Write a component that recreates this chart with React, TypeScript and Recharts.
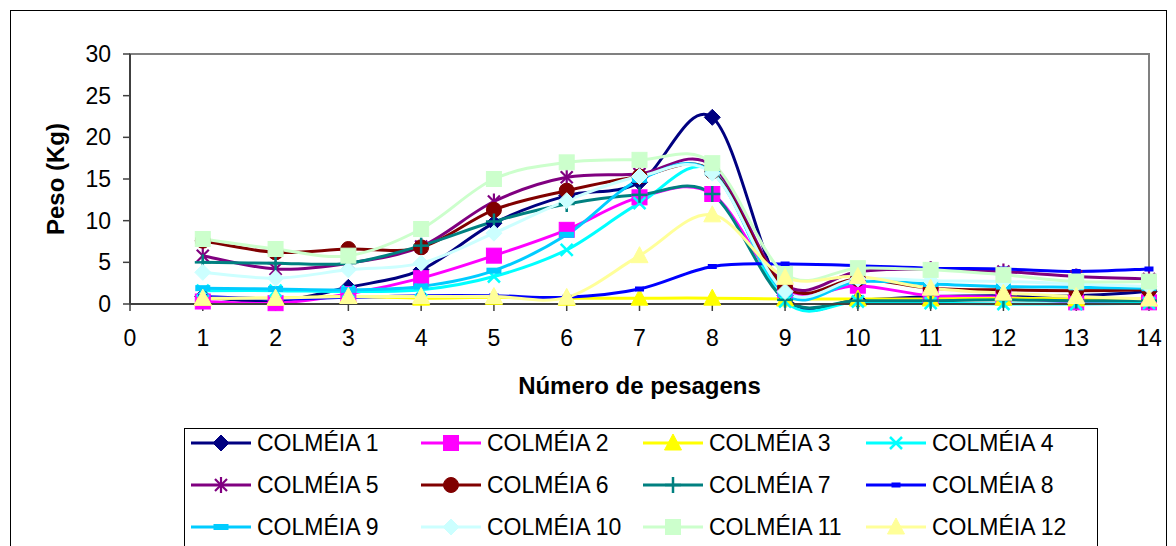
import React from "react";
import {
  LineChart,
  Line,
  XAxis,
  YAxis,
  ReferenceArea,
} from "recharts";

// pesagens 1..14
const pesagens = [1, 2, 3, 4, 5, 6, 7, 8, 9, 10, 11, 12, 13, 14];
const xTicks = [0, 1, 2, 3, 4, 5, 6, 7, 8, 9, 10, 11, 12, 13, 14];
const yTicks = [0, 5, 10, 15, 20, 25, 30];

const colmeia1 = [0.9, 0.3, 2.0, 4.1, 9.7, 13.0, 14.6, 22.4, 1.0, 0.5, 0.9, 1.0, 1.0, 1.5];
const colmeia2 = [0.3, 0.1, 1.2, 3.1, 5.8, 8.9, 12.8, 13.2, 1.7, 2.2, 1.0, 0.8, 0.2, 0.2];
const colmeia3 = [0.7, 0.7, 0.9, 0.7, 0.8, 0.7, 0.7, 0.7, 0.6, 0.6, 0.6, 0.7, 0.6, 0.6];
const colmeia4 = [1.6, 1.6, 1.5, 1.7, 3.3, 6.5, 12.1, 16.0, 0.3, 0.3, 0.1, 0.0, 0.0, 0.1];
const colmeia5 = [5.8, 4.2, 4.9, 6.9, 12.3, 15.2, 15.6, 16.6, 2.3, 3.9, 4.2, 3.9, 3.3, 3.0];
const colmeia6 = [7.6, 6.2, 6.6, 6.8, 11.3, 13.6, 15.3, 15.9, 2.0, 3.0, 1.9, 1.7, 1.6, 1.7];
const colmeia7 = [5.0, 4.9, 4.9, 7.0, 9.9, 12.0, 13.1, 13.2, 0.5, 0.4, 0.4, 0.5, 0.4, 0.4];
const colmeia8 = [0.9, 0.6, 0.8, 1.0, 1.0, 0.8, 1.8, 4.5, 4.8, 4.6, 4.3, 4.2, 3.9, 4.2];
const colmeia9 = [1.9, 1.8, 1.7, 2.1, 4.0, 8.3, 14.9, 15.8, 1.2, 2.7, 2.4, 2.1, 2.0, 1.9];
const colmeia10 = [3.8, 3.1, 4.1, 4.9, 8.5, 12.4, 15.3, 15.7, 1.5, 3.0, 2.8, 2.7, 2.4, 2.1];
const colmeia11 = [7.8, 6.6, 5.8, 9.0, 15.0, 17.0, 17.3, 16.9, 3.6, 4.3, 4.1, 3.5, 2.7, 2.7];
const colmeia12 = [0.7, 0.7, 0.9, 0.9, 0.9, 0.8, 5.8, 10.7, 3.2, 3.3, 1.9, 1.3, 0.9, 0.6];

const series = [
  { key: "c1", name: "COLMÉIA 1", color: "#000080", shape: "diamond", values: colmeia1 },
  { key: "c2", name: "COLMÉIA 2", color: "#FF00FF", shape: "square", values: colmeia2 },
  { key: "c3", name: "COLMÉIA 3", color: "#FFFF00", shape: "triangle", values: colmeia3 },
  { key: "c4", name: "COLMÉIA 4", color: "#00FFFF", shape: "x", values: colmeia4 },
  { key: "c5", name: "COLMÉIA 5", color: "#800080", shape: "star", values: colmeia5 },
  { key: "c6", name: "COLMÉIA 6", color: "#800000", shape: "circle", values: colmeia6 },
  { key: "c7", name: "COLMÉIA 7", color: "#008080", shape: "plus", values: colmeia7 },
  { key: "c8", name: "COLMÉIA 8", color: "#0000FF", shape: "dash", values: colmeia8 },
  { key: "c9", name: "COLMÉIA 9", color: "#00CCFF", shape: "bar", values: colmeia9 },
  { key: "c10", name: "COLMÉIA 10", color: "#CCFFFF", shape: "diamond", values: colmeia10 },
  { key: "c11", name: "COLMÉIA 11", color: "#CCFFCC", shape: "square", values: colmeia11 },
  { key: "c12", name: "COLMÉIA 12", color: "#FFFF99", shape: "triangle", values: colmeia12 },
];

const data = pesagens.map((p, i) => {
  const row: Record<string, number> = { pesagem: p };
  series.forEach((s) => {
    row[s.key] = s.values[i];
  });
  return row;
});

const FONT = "'Liberation Sans', Arial, sans-serif";

// smoothed line like the spreadsheet "smoothed line" option (Catmull-Rom bezier)
function smoothCurve(context: any) {
  let pts: number[][] = [];
  return {
    areaStart() {},
    areaEnd() {},
    lineStart() {
      pts = [];
    },
    point(x: number, y: number) {
      pts.push([+x, +y]);
    },
    lineEnd() {
      const n = pts.length;
      if (!n) return;
      context.moveTo(pts[0][0], pts[0][1]);
      for (let i = 0; i < n - 1; i++) {
        const p0 = pts[Math.max(i - 1, 0)];
        const p1 = pts[i];
        const p2 = pts[i + 1];
        const p3 = pts[Math.min(i + 2, n - 1)];
        context.bezierCurveTo(
          p1[0] + (p2[0] - p0[0]) / 6,
          p1[1] + (p2[1] - p0[1]) / 6,
          p2[0] - (p3[0] - p1[0]) / 6,
          p2[1] - (p3[1] - p1[1]) / 6,
          p2[0],
          p2[1]
        );
      }
    },
  };
}

function Marker({ shape, color, cx, cy }: { shape: string; color: string; cx: number; cy: number }) {
  switch (shape) {
    case "diamond":
      return (
        <polygon
          points={`${cx},${cy - 8} ${cx + 8},${cy} ${cx},${cy + 8} ${cx - 8},${cy}`}
          fill={color}
          stroke={color}
        />
      );
    case "square":
      return <rect x={cx - 7.5} y={cy - 7.5} width={15} height={15} fill={color} stroke={color} />;
    case "triangle":
      return (
        <polygon
          points={`${cx},${cy - 9} ${cx + 8.5},${cy + 7} ${cx - 8.5},${cy + 7}`}
          fill={color}
          stroke={color}
        />
      );
    case "x":
      return (
        <g stroke={color} strokeWidth={2.5}>
          <line x1={cx - 6} y1={cy - 6} x2={cx + 6} y2={cy + 6} />
          <line x1={cx - 6} y1={cy + 6} x2={cx + 6} y2={cy - 6} />
        </g>
      );
    case "star":
      return (
        <g stroke={color} strokeWidth={2.2}>
          <line x1={cx - 6} y1={cy - 6} x2={cx + 6} y2={cy + 6} />
          <line x1={cx - 6} y1={cy + 6} x2={cx + 6} y2={cy - 6} />
          <line x1={cx} y1={cy - 8} x2={cx} y2={cy + 8} />
        </g>
      );
    case "circle":
      return <circle cx={cx} cy={cy} r={7.5} fill={color} stroke={color} />;
    case "plus":
      return (
        <g stroke={color} strokeWidth={2.5}>
          <line x1={cx - 8} y1={cy} x2={cx + 8} y2={cy} />
          <line x1={cx} y1={cy - 8} x2={cx} y2={cy + 8} />
        </g>
      );
    case "dash":
      return <rect x={cx - 4.5} y={cy - 2.5} width={9} height={5} fill={color} />;
    case "bar":
      return <rect x={cx - 7.5} y={cy - 3} width={15} height={6} fill={color} />;
    default:
      return null;
  }
}

function LegendBox() {
  const colWidths = [230, 222, 223, 223];
  return (
    <div
      style={{
        position: "absolute",
        left: 173,
        top: 417,
        width: 912,
        height: 140,
        border: "1px solid #000",
        fontFamily: FONT,
        fontSize: 23,
        color: "#000",
      }}
    >
      {series.map((s, i) => {
        const col = i % 4;
        const row = Math.floor(i / 4);
        const left = 5 + colWidths.slice(0, col).reduce((a, b) => a + b, 0);
        return (
          <div
            key={s.key}
            style={{
              position: "absolute",
              left,
              top: 14 + row * 42 - 13,
              height: 26,
              display: "flex",
              alignItems: "center",
              whiteSpace: "nowrap",
            }}
          >
            <svg width={62} height={24} style={{ display: "block" }}>
              <line x1={1} y1={12} x2={61} y2={12} stroke={s.color} strokeWidth={3} />
              <Marker shape={s.shape} color={s.color} cx={31} cy={12} />
            </svg>
            <span style={{ marginLeft: 5 }}>{s.name}</span>
          </div>
        );
      })}
    </div>
  );
}

export default function App() {
  return (
    <div
      style={{
        position: "relative",
        width: 1157,
        height: 560,
        marginLeft: 2,
        marginTop: 2,
        border: "1px solid #000",
        boxSizing: "border-box",
        background: "#fff",
        fontFamily: FONT,
      }}
    >
      <LineChart
        width={1155}
        height={540}
        data={data}
        margin={{ top: 43, right: 17, left: 0, bottom: 207 }}
      >
        <ReferenceArea
          x1={0}
          x2={14}
          y1={0}
          y2={30}
          fill="none"
          stroke="#808080"
          strokeWidth={2}
          ifOverflow="visible"
        />
        <XAxis
          dataKey="pesagem"
          type="number"
          domain={[0, 14]}
          ticks={xTicks}
          interval={0}
          height={40}
          axisLine={{ stroke: "#404040", strokeWidth: 2 }}
          tickLine={{ stroke: "#404040", strokeWidth: 1.5 }}
          tickSize={7}
          tickMargin={19}
          tick={{ fill: "#000", fontSize: 23, fontFamily: FONT }}
          label={{
            content: (props: any) => {
              const vb = props.viewBox;
              return (
                <text
                  x={vb.x + vb.width / 2}
                  y={vb.y + 81}
                  textAnchor="middle"
                  dominantBaseline="central"
                  fontSize={24}
                  fontWeight="bold"
                  fontFamily={FONT}
                  fill="#000"
                >
                  Número de pesagens
                </text>
              );
            },
          }}
        />
        <YAxis
          type="number"
          domain={[0, 30]}
          ticks={yTicks}
          interval={0}
          width={119}
          axisLine={{ stroke: "#404040", strokeWidth: 2 }}
          tickLine={{ stroke: "#404040", strokeWidth: 1.5 }}
          tickSize={7}
          tickMargin={12}
          tick={{ fill: "#000", fontSize: 23, fontFamily: FONT }}
          label={{
            content: (props: any) => {
              const vb = props.viewBox;
              const x = vb.x + 44;
              const y = vb.y + vb.height / 2;
              return (
                <text
                  x={x}
                  y={y}
                  transform={`rotate(-90 ${x} ${y})`}
                  textAnchor="middle"
                  dominantBaseline="central"
                  fontSize={24}
                  fontWeight="bold"
                  fontFamily={FONT}
                  fill="#000"
                >
                  Peso (Kg)
                </text>
              );
            },
          }}
        />
        {series.map((s) => (
          <Line
            key={s.key}
            dataKey={s.key}
            name={s.name}
            type={smoothCurve as any}
            stroke={s.color}
            strokeWidth={3}
            isAnimationActive={false}
            dot={(p: any) => (
              <g key={`${s.key}-${p.index}`}>
                <Marker shape={s.shape} color={s.color} cx={p.cx} cy={p.cy} />
              </g>
            )}
            activeDot={false}
          />
        ))}
      </LineChart>
      <LegendBox />
    </div>
  );
}
